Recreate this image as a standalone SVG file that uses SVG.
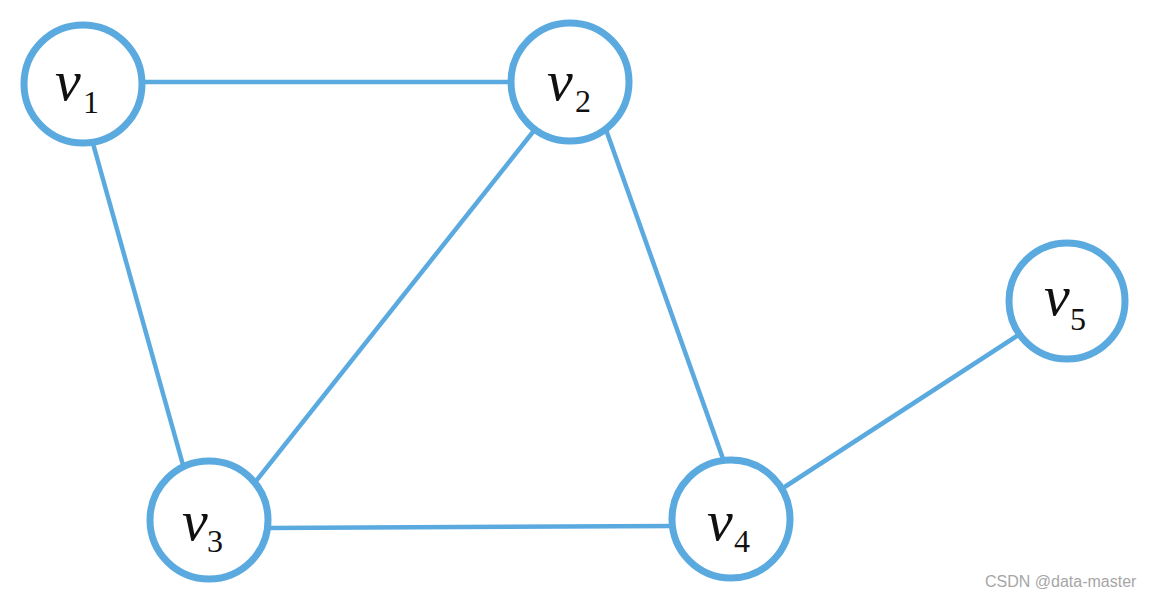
<svg xmlns="http://www.w3.org/2000/svg" width="1152" height="603" viewBox="0 0 1152 603">
<style>
.edge{stroke:#5aaae0;stroke-width:4.5;fill:none;stroke-linecap:butt}
.node circle{fill:#ffffff;stroke:#5aaae0;stroke-width:7}
.v{font-family:"Liberation Serif","Times New Roman",serif;font-style:italic;font-size:58px;fill:#111111}
.s{font-family:"Liberation Serif","Times New Roman",serif;font-size:32px;fill:#111111}
.wm{font-family:"Liberation Sans",Arial,sans-serif;font-size:16px;fill:#a6a6a6}
</style>
<rect width="1152" height="603" fill="#ffffff"/>
<g id="connectors">
<line class="edge" x1="140" y1="82" x2="512" y2="82"/>
<line class="edge" x1="92" y1="140" x2="183" y2="465"/>
<line class="edge" x1="540" y1="123" x2="249" y2="490"/>
<line class="edge" x1="599" y1="110" x2="727" y2="470"/>
<line class="edge" x1="265" y1="528" x2="675" y2="526"/>
<line class="edge" x1="780" y1="490" x2="1020" y2="334"/>
</g>
<g id="v1" class="node">
<circle cx="83" cy="84" r="59"/>
<text class="v" x="55" y="100">v</text><text class="s" x="83" y="113">1</text>
</g>
<g id="v2" class="node">
<circle cx="570" cy="82" r="59"/>
<text class="v" x="547" y="100">v</text><text class="s" x="575" y="112">2</text>
</g>
<g id="v3" class="node">
<circle cx="209" cy="520" r="59"/>
<text class="v" x="182" y="540">v</text><text class="s" x="207" y="552">3</text>
</g>
<g id="v4" class="node">
<circle cx="731" cy="519" r="59"/>
<text class="v" x="707" y="540">v</text><text class="s" x="734" y="552">4</text>
</g>
<g id="v5" class="node">
<circle cx="1067" cy="301" r="58"/>
<text class="v" x="1044" y="315">v</text><text class="s" x="1070" y="330">5</text>
</g>
<text class="wm" x="985" y="587">CSDN @data-master</text>
</svg>
